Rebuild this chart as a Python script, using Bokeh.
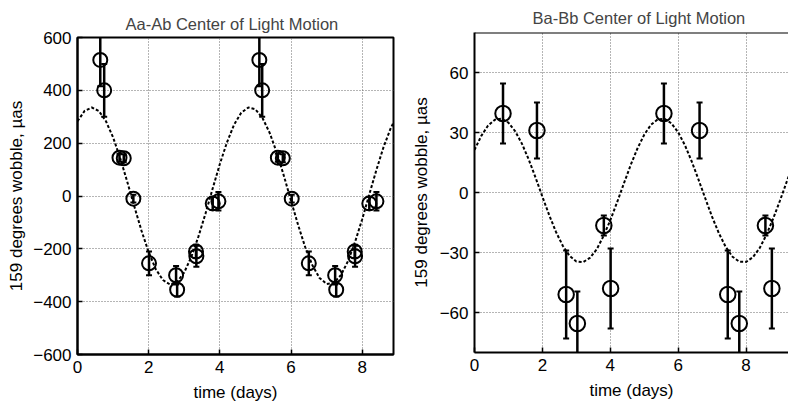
from bokeh.plotting import figure
from bokeh.layouts import row
from bokeh.models import Range1d, FixedTicker, Span
from bokeh.embed import file_html
from bokeh.resources import INLINE

# ---------------- data: Aa-Ab panel ----------------
x_aa = [0.64, 0.75, 1.18, 1.30, 1.57, 2.01, 2.77, 2.80, 3.33, 3.34, 3.80, 3.96,
        5.11, 5.19, 5.63, 5.77, 6.02, 6.50, 7.24, 7.27, 7.79, 7.80, 8.20, 8.40]
y_aa = [515, 400, 145, 143, -10, -255, -300, -355, -210, -228, -28, -20,
        515, 400, 145, 143, -10, -255, -300, -355, -210, -228, -28, -20]
err_aa = [100, 100, 15, 15, 15, 45, 35, 25, 25, 40, 25, 35,
          100, 100, 15, 15, 15, 45, 35, 25, 25, 40, 25, 35]

curve_t_aa = [0.0, 0.2, 0.4, 0.6, 0.8, 1.0, 1.2, 1.4, 1.6, 1.8, 2.0, 2.2, 2.4, 2.6,
              2.8, 3.0, 3.2, 3.4, 3.6, 3.8, 4.0, 4.2, 4.4, 4.6, 4.8, 5.0, 5.2, 5.4,
              5.6, 5.8, 6.0, 6.2, 6.4, 6.6, 6.8, 7.0, 7.2, 7.4, 7.6, 7.8, 8.0, 8.2,
              8.4, 8.6, 8.8, 8.88]
curve_y_aa = [283, 322, 335, 322, 283, 222, 143, 53, -41, -132, -213, -277, -318, -335,
              -325, -289, -230, -153, -65, 29, 121, 203, 270, 315, 335, 328, 295, 239,
              164, 76, -18, -110, -194, -262, -310, -333, -329, -300, -247, -174, -88, 6,
              99, 185, 256, 278]

xticks_aa = [0, 2, 4, 6, 8]
yticks_aa = [-600, -400, -200, 0, 200, 400, 600]

# ---------------- data: Ba-Bb panel ----------------
x_ba = [0.84, 1.84, 2.70, 3.03, 3.81, 4.01, 5.58, 6.63, 7.46, 7.80, 8.57, 8.76]
y_ba = [39.5, 31, -51, -65.5, -16.5, -48, 39.5, 31, -51, -65.5, -16.5, -48]
err_ba = [15, 14, 22, 16, 5, 20, 15, 14, 22, 16, 5, 20]

curve_t_ba = [0.0, 0.2, 0.4, 0.6, 0.8, 1.0, 1.2, 1.4, 1.6, 1.8, 2.0, 2.2, 2.4, 2.6,
              2.8, 3.0, 3.2, 3.4, 3.6, 3.8, 4.0, 4.2, 4.4, 4.6, 4.8, 5.0, 5.2, 5.4,
              5.6, 5.8, 6.0, 6.2, 6.4, 6.6, 6.8, 7.0, 7.2, 7.4, 7.6, 7.8, 8.0, 8.2,
              8.4, 8.6, 8.8, 9.0, 9.2, 9.4, 9.6]
curve_y_ba = [21.3, 28.3, 33.5, 36.4, 36.9, 34.9, 30.6, 24.3, 16.4, 7.4, -2.1, -11.3,
              -19.7, -26.6, -31.7, -34.5, -34.8, -32.7, -28.4, -21.8, -13.9, -4.9, 4.5,
              13.7, 22.0, 28.9, 33.9, 36.6, 36.8, 34.6, 30.1, 23.6, 15.5, 6.4, -3.0,
              -12.2, -20.4, -27.2, -32.1, -34.6, -34.7, -32.4, -27.8, -21.1, -13.0,
              -4.0, 5.5, 14.6, 22.8]

xticks_ba = [0, 2, 4, 6, 8]
yticks_ba = [-60, -30, 0, 30, 60]

FONT = "Liberation Sans"


def style_axis(ax, ticks):
    ax.ticker = FixedTicker(ticks=ticks)
    ax.major_tick_in = 5
    ax.major_tick_out = 0
    ax.minor_tick_in = 0
    ax.minor_tick_out = 0
    ax.axis_line_width = 2
    ax.axis_line_color = "black"
    ax.major_tick_line_width = 1.5
    ax.major_tick_line_color = "black"
    ax.major_label_text_font = FONT
    ax.major_label_text_color = "black"
    ax.major_label_text_font_size = "17px"
    ax.axis_label_text_font = FONT
    ax.axis_label_text_font_style = "normal"
    ax.axis_label_text_font_size = "17px"
    ax.axis_label_text_color = "black"


def make_panel(title, xs, ys, errs, ct, cy, xr, yr, xticks, yticks,
               w, h, bl, br, bt, bb, title_offset, title_standoff,
               ylab_standoff, msize, full_box):
    p = figure(width=w, height=h, min_border_left=bl,
               min_border_right=br, min_border_top=bt, min_border_bottom=bb,
               x_range=Range1d(*xr), y_range=Range1d(*yr),
               output_backend="svg", toolbar_location=None,
               background_fill_color="white", border_fill_color="white")
    p.frame_align = False
    p.title.text = title
    p.title.text_font = FONT
    p.title.text_font_style = "normal"
    p.title.text_font_size = "16.5px"
    p.title.align = "left"
    p.title.offset = title_offset
    p.title.standoff = title_standoff

    if full_box:
        p.outline_line_color = "black"
        p.outline_line_width = 2
    else:
        p.outline_line_color = None
        p.add_layout(Span(location=yr[1], dimension="width",
                          line_color="black", line_width=2))

    style_axis(p.xaxis[0], xticks)
    style_axis(p.yaxis[0], yticks)
    p.xaxis.axis_label = "time (days)"
    p.yaxis.axis_label = "159 degrees wobble, \u00b5as"
    p.xaxis.major_label_standoff = 6
    p.xaxis.axis_label_standoff = 7
    p.yaxis.major_label_standoff = 6
    p.yaxis.axis_label_standoff = ylab_standoff

    for g in (p.xgrid[0], p.ygrid[0]):
        g.grid_line_color = "#6a6a6a"
        g.grid_line_dash = "1 2"
        g.grid_line_width = 1
    p.xgrid.ticker = FixedTicker(ticks=xticks)
    p.ygrid.ticker = FixedTicker(ticks=yticks)

    # model curve
    p.line(ct, cy, line_color="black", line_width=2, line_dash="3 2")

    # error bars
    lo = [y - e for y, e in zip(ys, errs)]
    hi = [y + e for y, e in zip(ys, errs)]
    p.segment(x0=xs, y0=lo, x1=xs, y1=hi, line_color="black", line_width=2.5)
    p.scatter(xs, lo, marker="dash", size=6, line_color="black", line_width=2)
    p.scatter(xs, hi, marker="dash", size=6, line_color="black", line_width=2)

    # data markers
    p.scatter(xs, ys, marker="circle", size=msize, fill_color=None,
              line_color="black", line_width=2)
    return p


p1 = make_panel("Aa-Ab Center of Light Motion", x_aa, y_aa, err_aa,
                curve_t_aa, curve_y_aa, (0, 8.88), (-600, 600),
                xticks_aa, yticks_aa, 403, 404, 77, 10, 37, 50, 48, 10, 4, 14, True)
p2 = make_panel("Ba-Bb Center of Light Motion", x_ba, y_ba, err_ba,
                curve_t_ba, curve_y_ba, (0, 9.25), (-80, 80),
                xticks_ba, yticks_ba, 385, 404, 71, 0, 30, 52, 58, 12, 6, 15.5, False)

layout = row(p1, p2, spacing=0)
open("out.html", "w").write(file_html(layout, INLINE))
